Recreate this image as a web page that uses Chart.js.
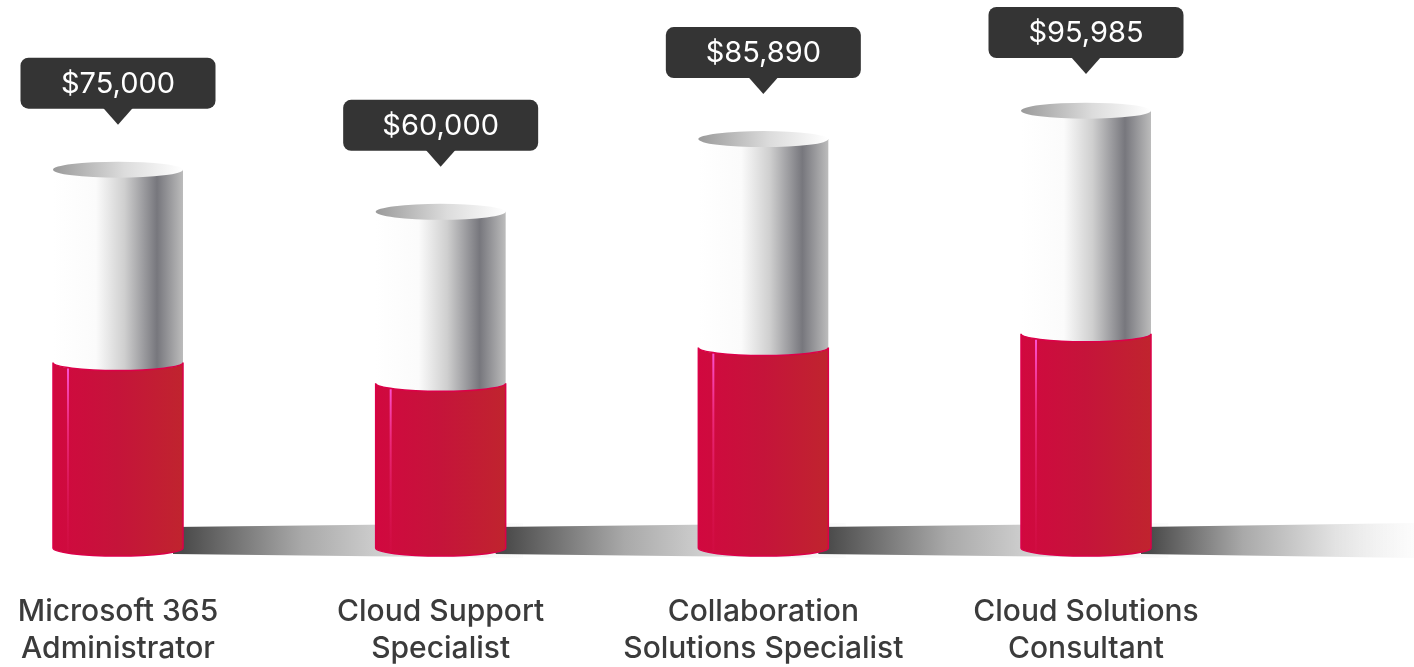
<!DOCTYPE html>
<html>
<head>
<meta charset="utf-8">
<script src="https://cdn.jsdelivr.net/npm/chart.js@4.4.1/dist/chart.umd.min.js"></script>
<style>
  html, body { margin: 0; padding: 0; background: #ffffff; }
  #wrap { width: 1414px; height: 667px; position: relative; }
</style>
</head>
<body>
<div id="wrap"><canvas id="salaryChart"></canvas></div>
<script>
// job roles, two lines each
const roles = [
  ['Microsoft 365', 'Administrator'],
  ['Cloud Support', 'Specialist'],
  ['Collaboration', 'Solutions Specialist'],
  ['Cloud Solutions', 'Consultant']
];
const salaries = [75000, 60000, 85890, 95985];

// value axis range (bars do not start at zero in the original)
const yMin = -59700;
const yMax = 135400;

const redShare = 0.49;   // lower red part of each cylinder

function money(v) {
  return '$' + v.toLocaleString('en-US');
}

// shadows on the floor, behind the cylinders
const floorShadowPlugin = {
  id: 'floorShadow',
  beforeDatasetsDraw(chart) {
    const ctx = chart.ctx;
    const meta = chart.getDatasetMeta(0);
    const base = chart.scales.y.getPixelForValue(yMin);
    ctx.save();
    meta.data.forEach((bar, i) => {
      const right = bar.x + bar.width / 2;
      const len = i < meta.data.length - 1 ? 340 : chart.width - right;
      const g = ctx.createLinearGradient(right, 0, right + len, 0);
      g.addColorStop(0, '#4b4b4b');
      g.addColorStop(0.35, '#a9a9a9');
      g.addColorStop(0.7, '#e2e2e2');
      g.addColorStop(1, 'rgba(250,250,250,0.6)');
      ctx.fillStyle = g;
      ctx.beginPath();
      ctx.moveTo(right - 10, base - 21);
      ctx.lineTo(right + len, base - 25);
      ctx.lineTo(right + len, base + 10);
      ctx.lineTo(right - 10, base + 6);
      ctx.closePath();
      ctx.fill();
    });
    ctx.restore();
  }
};

const cylinderPlugin = {
  id: 'cylinders',
  afterDatasetsDraw(chart) {
    const ctx = chart.ctx;
    const meta = chart.getDatasetMeta(0);
    const base = chart.scales.y.getPixelForValue(yMin);
    const ry = 8;
    ctx.save();
    meta.data.forEach((bar) => {
      const w = bar.width;
      const left = bar.x - w / 2;
      const right = bar.x + w / 2;
      const top = bar.y;
      const redTop = base - (base - top) * redShare;

      // silver body
      const sg = ctx.createLinearGradient(left, 0, right, 0);
      sg.addColorStop(0, '#ffffff');
      sg.addColorStop(0.33, '#fbfbfb');
      sg.addColorStop(0.55, '#cfcfcf');
      sg.addColorStop(0.8, '#77777d');
      sg.addColorStop(1, '#bcbcbc');
      ctx.fillStyle = sg;
      ctx.fillRect(left, top, w, redTop - top + ry);

      // top ellipse
      const tg = ctx.createLinearGradient(left, 0, right, 0);
      tg.addColorStop(0, '#9a9a9a');
      tg.addColorStop(0.55, '#dcdcdc');
      tg.addColorStop(1, '#ffffff');
      ctx.fillStyle = tg;
      ctx.beginPath();
      ctx.ellipse(bar.x, top, w / 2, ry, 0, 0, Math.PI * 2);
      ctx.fill();

      // red body
      const rg = ctx.createLinearGradient(left, 0, right, 0);
      rg.addColorStop(0, '#d1083f');
      rg.addColorStop(0.5, '#c5143a');
      rg.addColorStop(1, '#c0242e');
      ctx.fillStyle = rg;
      ctx.beginPath();
      ctx.moveTo(left, redTop);
      ctx.ellipse(bar.x, redTop, w / 2, ry, 0, Math.PI, 0, true);
      ctx.lineTo(right, base);
      ctx.ellipse(bar.x, base, w / 2, ry, 0, 0, Math.PI, false);
      ctx.closePath();
      ctx.fill();
      ctx.strokeStyle = '#dc0049';
      ctx.lineWidth = 1.5;
      ctx.stroke();

      // glossy highlight
      const hx = left + 15;
      const hg = ctx.createLinearGradient(0, redTop, 0, base);
      hg.addColorStop(0, 'rgba(255,90,230,0.95)');
      hg.addColorStop(0.35, 'rgba(255,60,160,0.6)');
      hg.addColorStop(1, 'rgba(230,30,100,0.1)');
      ctx.strokeStyle = hg;
      ctx.lineWidth = 2;
      ctx.beginPath();
      ctx.moveTo(hx, redTop + 6);
      ctx.lineTo(hx, base + 4);
      ctx.stroke();
    });
    ctx.restore();
  }
};

// always-on value callouts
const calloutPlugin = {
  id: 'callouts',
  afterDraw(chart) {
    const ctx = chart.ctx;
    const meta = chart.getDatasetMeta(0);
    const bw = 195, bh = 51;
    ctx.save();
    meta.data.forEach((bar, i) => {
      const boxTop = Math.max(7, bar.y - 61 - bh);
      const bx = bar.x - bw / 2;
      ctx.fillStyle = '#343434';
      ctx.beginPath();
      ctx.roundRect(bx, boxTop, bw, bh, 8);
      ctx.fill();
      ctx.beginPath();
      ctx.moveTo(bar.x - 15, boxTop + bh - 1);
      ctx.lineTo(bar.x + 15, boxTop + bh - 1);
      ctx.lineTo(bar.x, boxTop + bh + 16);
      ctx.closePath();
      ctx.fill();
      ctx.fillStyle = '#ffffff';
      ctx.font = '29px Inter, Roboto, sans-serif';
      ctx.textAlign = 'center';
      ctx.textBaseline = 'middle';
      ctx.fillText(money(salaries[i]), bar.x, boxTop + bh / 2 + 1);
    });
    ctx.restore();
  }
};

const ctx = document.getElementById('salaryChart').getContext('2d');
new Chart(ctx, {
  type: 'bar',
  data: {
    labels: roles,
    datasets: [{
      data: salaries,
      backgroundColor: 'rgba(0,0,0,0)',
      borderWidth: 0,
      barThickness: 130
    }]
  },
  options: {
    responsive: true,
    maintainAspectRatio: false,
    animation: false,
    events: [],
    layout: { padding: { left: 118, right: 328, top: 0, bottom: 0 } },
    plugins: {
      legend: { display: false },
      tooltip: { enabled: false }
    },
    scales: {
      x: {
        offset: false,
        grid: { display: false },
        border: { display: false },
        afterFit(scale) {
          scale.height = 119;
          scale.paddingLeft = 0;
          scale.paddingRight = 0;
        },
        ticks: {
          autoSkip: false,
          maxRotation: 0,
          padding: 38,
          color: '#3b3b3b',
          font: { family: 'Inter, "Noto Sans", sans-serif', size: 30, weight: '500', lineHeight: 1.22 }
        }
      },
      y: {
        display: false,
        min: yMin,
        max: yMax
      }
    }
  },
  plugins: [floorShadowPlugin, cylinderPlugin, calloutPlugin]
});
</script>
</body>
</html>
